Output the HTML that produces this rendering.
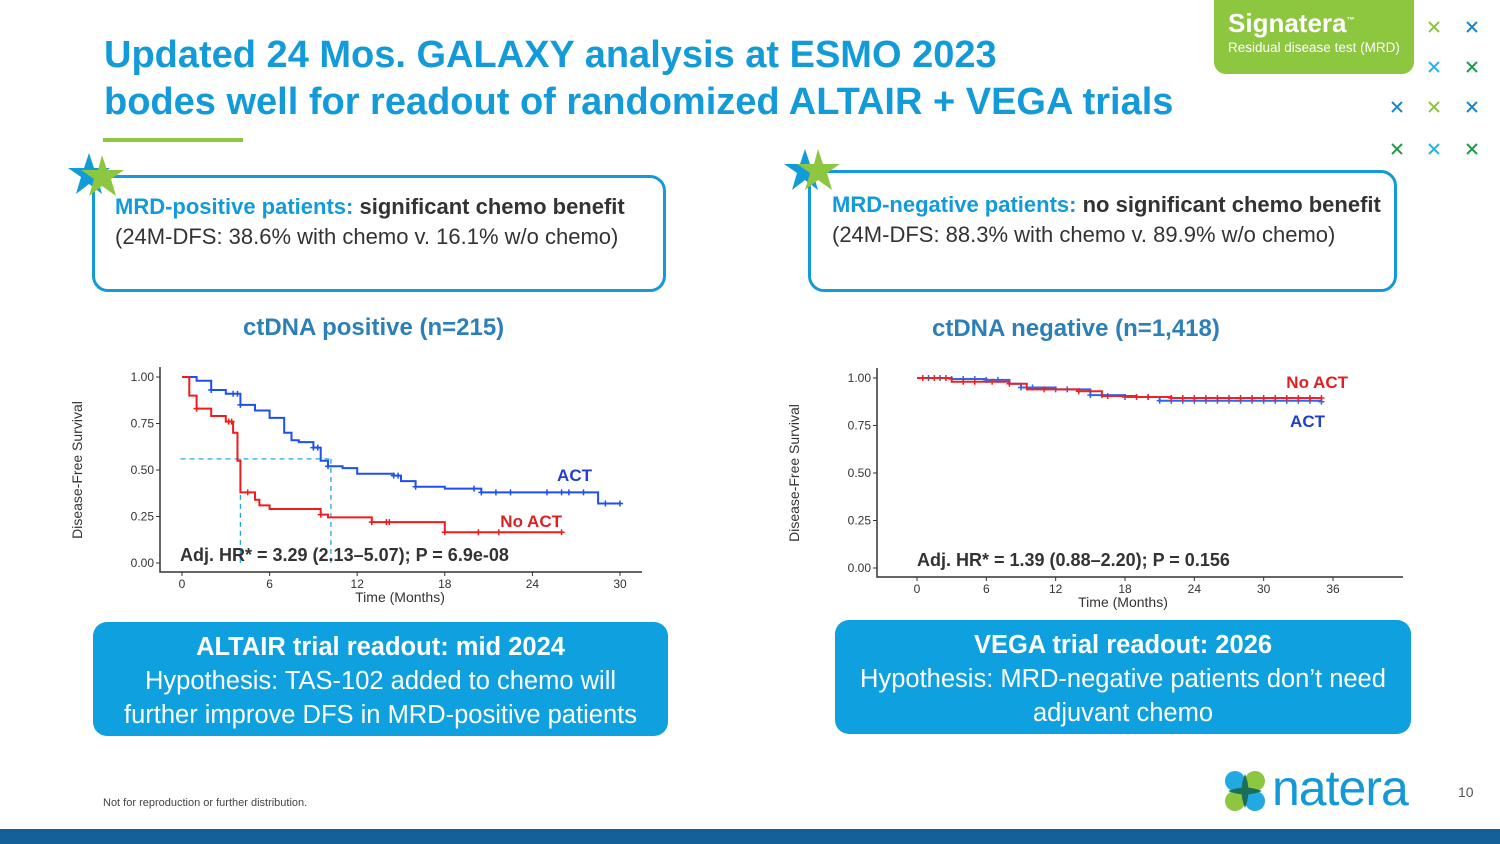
<!DOCTYPE html>
<html><head><meta charset="utf-8">
<style>
body{margin:0;width:1500px;height:844px;overflow:hidden;background:#fff;font-family:"Liberation Sans",sans-serif;position:relative}
.abs{position:absolute}
.title{left:104px;top:32px;color:#129bd8;font-weight:bold;font-size:38px;line-height:47px;letter-spacing:0px;white-space:nowrap}
.box{border:3px solid #129bd8;border-radius:16px;background:#fff}
.boxtext{font-size:22px;color:#333;line-height:30px;white-space:nowrap}
.boxtext b.c{color:#129bd8}
.blue{background:#0ea0df;border-radius:14px;color:#fff;text-align:center;font-size:25.5px;line-height:34px}
.ctitle{font-weight:bold;color:#2d7fb8;font-size:24px;white-space:nowrap}
</style></head><body>
<div class="abs title">Updated 24 Mos. GALAXY analysis at ESMO 2023<br>bodes well for readout of randomized ALTAIR + VEGA trials</div>
<div class="abs" style="left:103px;top:138px;width:140px;height:4px;background:#8dc63f"></div>

<div class="abs" style="left:1214px;top:-10px;width:200px;height:84px;background:#8dc63f;border-radius:0 0 12px 12px;color:#fff">
<div style="position:absolute;left:14px;top:18px;font-size:26px;font-weight:bold">Signatera<sup style="font-size:8px">™</sup></div>
<div style="position:absolute;left:14px;top:50px;font-size:13.5px">Residual disease test (MRD)</div></div>
<svg class="abs" style="left:1380px;top:10px" width="110" height="150">
<g stroke-width="2" fill="none">
<path d="M49 12l10 10M59 12l-10 10" stroke="#8dc63f"/><path d="M87 12l10 10M97 12l-10 10" stroke="#1a86c8"/>
<path d="M49 52l10 10M59 52l-10 10" stroke="#2ab3e6"/><path d="M87 52l10 10M97 52l-10 10" stroke="#1e9a49"/>
<path d="M12 92l10 10M22 92l-10 10" stroke="#1a86c8"/><path d="M49 92l10 10M59 92l-10 10" stroke="#8dc63f"/><path d="M87 92l10 10M97 92l-10 10" stroke="#1a86c8"/>
<path d="M12 134l10 10M22 134l-10 10" stroke="#1e9a49"/><path d="M49 134l10 10M59 134l-10 10" stroke="#2ab3e6"/><path d="M87 134l10 10M97 134l-10 10" stroke="#1e9a49"/>
</g></svg>

<div class="abs box" style="left:92px;top:175px;width:568px;height:111px"></div>
<div class="abs boxtext" style="left:115px;top:192px"><b class="c">MRD-positive patients:</b> <b>significant chemo benefit</b><br>(24M-DFS: 38.6% with chemo v. 16.1% w/o chemo)</div>
<div class="abs box" style="left:808px;top:170px;width:583px;height:116px"></div>
<div class="abs boxtext" style="left:832px;top:190px"><b class="c">MRD-negative patients:</b> <b>no significant chemo benefit</b><br>(24M-DFS: 88.3% with chemo v. 89.9% w/o chemo)</div>
<svg class="abs" style="left:64px;top:150px" width="70" height="52"><polygon points="25,3 30,18 46,18 33,27 38,44 25,34 12,44 17,27 4,18 20,18" fill="#129bd8"/><polygon points="38,5 43,20 60,20 47,29 52,46 38,36 25,46 30,29 17,20 34,20" fill="#8dc63f"/></svg>
<svg class="abs" style="left:780px;top:146px" width="70" height="52"><polygon points="25,3 30,18 46,18 33,27 38,44 25,34 12,44 17,27 4,18 20,18" fill="#129bd8"/><polygon points="38,3 43,18 60,18 47,27 52,44 38,34 25,44 30,27 17,18 34,18" fill="#8dc63f"/></svg>

<div class="abs ctitle" style="left:243px;top:314px">ctDNA positive (n=215)</div>
<div class="abs ctitle" style="left:932px;top:315px">ctDNA negative (n=1,418)</div>

<svg id="chartL" class="abs" style="left:0;top:0" width="1500" height="844"></svg>

<div class="abs blue" style="left:93px;top:622px;width:575px;height:114px;padding-top:8px;box-sizing:border-box"><b>ALTAIR trial readout: mid 2024</b><br>Hypothesis: TAS-102 added to chemo will<br>further improve DFS in MRD-positive patients</div>
<div class="abs blue" style="left:835px;top:620px;width:576px;height:114px;padding-top:8px;box-sizing:border-box"><b>VEGA trial readout: 2026</b><br>Hypothesis: MRD-negative patients don’t need<br>adjuvant chemo</div>

<div class="abs" style="left:103px;top:797px;font-size:11px;color:#444">Not for reproduction or further distribution.</div>
<svg class="abs" style="left:1224px;top:770px" width="42" height="42"><circle cx="11" cy="11" r="10" fill="#23a9e1"/><circle cx="31" cy="11" r="10" fill="#8dc63f"/><circle cx="11" cy="31" r="10" fill="#8dc63f"/><circle cx="31" cy="31" r="10" fill="#23a9e1"/><path d="M21 4 Q28 21 21 38 Q14 21 21 4Z M4 21 Q21 14 38 21 Q21 28 4 21Z" fill="#1c6e5a"/></svg>
<div class="abs" style="left:1272px;top:759px;font-size:50px;color:#139ad6;letter-spacing:-1px">natera</div>
<div class="abs" style="left:1458px;top:784px;font-size:14px;color:#555">10</div>
<div class="abs" style="left:0;top:829px;width:1500px;height:15px;background:#16609a"></div>

<script>
// Left chart (ctDNA positive)
const leftActTimes=[0,1,2,3,4,5,6,7,7.5,8,9,9.5,10,11,12,14.5,15,16,18,20.5,28.5,30];
const leftActSurv=[1.0,0.98,0.93,0.91,0.85,0.82,0.78,0.70,0.66,0.65,0.62,0.55,0.52,0.51,0.48,0.47,0.44,0.41,0.40,0.38,0.32,0.32];
const leftNoActTimes=[0,0.5,1,2,3,3.5,3.8,4,5,5.3,6,9.5,10,13,18,26];
const leftNoActSurv=[1.0,0.90,0.83,0.79,0.76,0.70,0.55,0.38,0.34,0.31,0.29,0.26,0.245,0.22,0.165,0.165];
const leftActCensor=[2,3.5,3.8,4,9,9.3,10,14.5,14.8,16,20,20.5,21.5,22.5,25,26,26.5,27.5,29,30];
const leftNoActCensor=[1,3.2,3.4,4.5,9.5,13,14,14.2,18,20.3,21.7,26];
// Right chart (ctDNA negative)
const rightActTimes=[0,3,6,8,9,12,15,18,21,35];
const rightActSurv=[1.0,0.995,0.99,0.97,0.95,0.94,0.91,0.90,0.88,0.875];
const rightNoActTimes=[0,3,8,9.5,14,16,19,22,35];
const rightNoActSurv=[1.0,0.98,0.97,0.94,0.93,0.905,0.90,0.895,0.895];
const rightActCensor=[1,2,3,4,5,6,7,9,10,12,13,15,16,18,20,21,22,23,24,25,26,27,28,29,30,31,32,33,34,35];
const rightNoActCensor=[0.5,1.5,2.5,4,5,6.5,8,11,14,16.5,19,20,22,23,24,25,26,27,28,29,30,31,32,33,34,35];
const xTicksL=[0,6,12,18,24,30];
const xTicksR=[0,6,12,18,24,30,36];
const yTicks=[0,0.25,0.5,0.75,1.0];

const svg=document.getElementById('chartL');
const NS='http://www.w3.org/2000/svg';
function mk(tag,attrs,parent){const e=document.createElementNS(NS,tag);for(const k in attrs)e.setAttribute(k,attrs[k]);(parent||svg).appendChild(e);return e;}

function drawChart(cfg){
  const sx=t=>cfg.x0+(cfg.x1-cfg.x0)*t/cfg.xmax;
  const sy=v=>cfg.y0+(cfg.y1-cfg.y0)*v;
  const g=mk('g',{});
  
  
  mk('path',{d:`M${cfg.axL} ${cfg.axTop}V${cfg.axB}H${cfg.axR}`,stroke:'#333','stroke-width':1.5,fill:'none'},g);
  yTicks.forEach(v=>{
    mk('line',{x1:cfg.axL-4,x2:cfg.axL,y1:sy(v),y2:sy(v),stroke:'#333'},g);
    const t=mk('text',{x:cfg.axL-6,y:sy(v)+4,'text-anchor':'end','font-size':12,fill:'#333'},g);t.textContent=v.toFixed(2);
    
    
  });
  cfg.xTicks.forEach(v=>{
    mk('line',{x1:sx(v),x2:sx(v),y1:cfg.axB,y2:cfg.axB+4,stroke:'#333'},g);
    const t=mk('text',{x:sx(v),y:cfg.axB+16,'text-anchor':'middle','font-size':12,fill:'#333'},g);t.textContent=v;
    
    
  });
  const xt=mk('text',{x:(cfg.x0+cfg.x1)/2+(cfg.xtOff||0),y:cfg.axB+30,'text-anchor':'middle','font-size':14,fill:'#333'},g);xt.textContent='Time (Months)';
  
  
  const yt=mk('text',{x:0,y:0,'text-anchor':'middle','font-size':14,fill:'#333',transform:`translate(${cfg.axL-78},${(cfg.y0+cfg.y1)/2}) rotate(-90)`},g);yt.textContent='Disease-Free Survival';
  
  
  (cfg.extra||(()=>{}))(g,sx,sy);
  cfg.series.forEach(s=>{
    let d=`M${sx(s.t[0])} ${sy(s.v[0])}`;
    for(let i=1;i<s.t.length;i++){d+=`H${sx(s.t[i])}V${sy(s.v[i])}`;}
    const p=mk('path',{d,stroke:s.color,'stroke-width':2,fill:'none'},g);
    
    
    s.c.forEach(ct=>{
      let v=s.v[0];for(let i=0;i<s.t.length;i++){if(s.t[i]<=ct)v=s.v[i];}
      const m=mk('path',{d:`M${sx(ct)-3} ${sy(v)}h6M${sx(ct)} ${sy(v)-3}v6`,stroke:s.color,'stroke-width':1.5},g);
      
      
    });
  });
  cfg.labels.forEach(l=>{
    const t=mk('text',{x:l.x,y:l.y,'font-size':l.size,'font-weight':'bold',fill:l.color,'text-anchor':l.anchor||'start'},g);t.textContent=l.text;
    
    
  });
}

drawChart({name:'left-km-plot',x0:182,x1:620,xmax:30,y0:563,y1:377,axL:160,axR:642,axTop:367,axB:572,xTicks:xTicksL,xtOff:-1,
  series:[{name:'act-line',t:leftActTimes,v:leftActSurv,color:'#1f4fee',c:leftActCensor},{name:'no-act-line',t:leftNoActTimes,v:leftNoActSurv,color:'#ee1c1c',c:leftNoActCensor}],
  extra:(g,sx,sy)=>{mk('path',{d:`M${sx(-0.1)} ${sy(0.56)}H${sx(10.2)}M${sx(4)} ${sy(0.56)}V${sy(0.0)}M${sx(10.2)} ${sy(0.56)}V${sy(0.0)}`,stroke:'#2aa7dc','stroke-width':1.3,'stroke-dasharray':'5,4',fill:'none'},g);},
  labels:[{name:'act-label',text:'ACT',x:592,y:481,size:17,color:'#1f3fcc',anchor:'end'},{name:'no-act-label',text:'No ACT',x:562,y:527,size:17,color:'#e02020',anchor:'end'},{name:'hr-annotation',text:'Adj. HR* = 3.29 (2.13–5.07); P = 6.9e-08',x:180,y:561,size:18,color:'#333'}]});

drawChart({name:'right-km-plot',x0:917,x1:1333,xmax:36,y0:568,y1:378,axL:877,axR:1403,axTop:368,axB:577,xTicks:xTicksR,xtOff:-2,
  series:[{name:'act-line',t:rightActTimes,v:rightActSurv,color:'#2c66ee',c:rightActCensor},{name:'no-act-line',t:rightNoActTimes,v:rightNoActSurv,color:'#ee2222',c:rightNoActCensor}],
  labels:[{name:'no-act-label',text:'No ACT',x:1348,y:388,size:17,color:'#e02020',anchor:'end'},{name:'act-label',text:'ACT',x:1325,y:427,size:17,color:'#1f3fcc',anchor:'end'},{name:'hr-annotation',text:'Adj. HR* = 1.39 (0.88–2.20); P = 0.156',x:917,y:566,size:18,color:'#333'}]});
</script>
</body></html>
